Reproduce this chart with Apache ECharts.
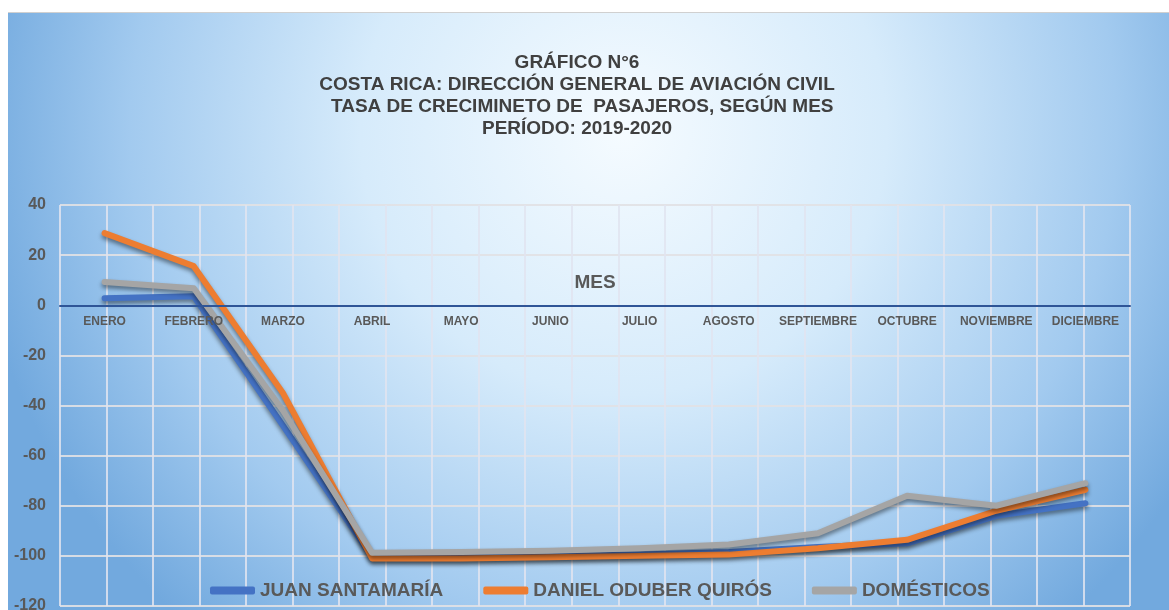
<!DOCTYPE html>
<html>
<head>
<meta charset="utf-8">
<script src="https://cdn.jsdelivr.net/npm/echarts@6/dist/echarts.min.js"></script>
<style>
    html, body { margin: 0; padding: 0; background: #ffffff; }
    #chart { width: 1169px; height: 610px; }
</style>
</head>
<body>
<div id="chart"></div>
<script>
// months (x axis) and growth rate per series
const months = ['ENERO', 'FEBRERO', 'MARZO', 'ABRIL', 'MAYO', 'JUNIO', 'JULIO',
    'AGOSTO', 'SEPTIEMBRE', 'OCTUBRE', 'NOVIEMBRE', 'DICIEMBRE'];
const juanSantamaria = [2.8, 3.6, -48, -100.5, -100.5, -100, -99.5, -98.5, -96.5, -95, -84, -79];
const danielOduber = [28.8, 15.6, -35, -101, -101, -100.5, -100, -99.5, -97, -93.6, -82, -73.6];
const domesticos = [9.3, 6.8, -42, -98.8, -98.5, -98, -97, -95.5, -91, -76, -80, -71];
const seriesNames = ['JUAN SANTAMARÍA', 'DANIEL ODUBER QUIRÓS', 'DOMÉSTICOS'];
const halfSteps = Array.from({ length: 24 }, (_, i) => 'h' + i);

const yMin = -120;
const yMax = 40;

const chart = echarts.init(document.getElementById('chart'));
const font = 'Liberation Sans, Arial, sans-serif';
const lineShadow = { shadowColor: 'rgba(0,0,0,0.45)', shadowBlur: 4, shadowOffsetY: 3, cap: 'round', join: 'round' };
const plotBox = { left: 60, right: 39, top: 205, bottom: 4, outerBoundsMode: 'none' };

// the month axis sits on the zero line: shift it up from the bottom edge of the grid
const plotHeight = 610 - plotBox.top - plotBox.bottom;
const zeroOffset = -plotHeight * (0 - yMin) / (yMax - yMin);

const option = {
    backgroundColor: '#ffffff',
    textStyle: { fontFamily: font },
    graphic: [{
        type: 'rect',
        z: -10,
        silent: true,
        shape: { x: 8, y: 12, width: 1161, height: 598 },
        style: {
            fill: new echarts.graphic.RadialGradient(0.53, 0.2, 1.1, [
                { offset: 0, color: '#f5fbff' },
                { offset: 0.4, color: '#d6ebfb' },
                { offset: 0.75, color: '#a2caef' },
                { offset: 1, color: '#72a9de' }
            ])
        }
    }, {
        type: 'rect',
        z: -9,
        silent: true,
        shape: { x: 8, y: 12, width: 1161, height: 1 },
        style: { fill: '#d0d0d0' }
    }],
    title: {
        text: 'GRÁFICO N°6\nCOSTA RICA: DIRECCIÓN GENERAL DE AVIACIÓN CIVIL\n  TASA DE CRECIMINETO DE  PASAJEROS, SEGÚN MES\nPERÍODO: 2019-2020',
        left: 572,
        textAlign: 'center',
        top: 47,
        textStyle: { fontSize: 19, fontWeight: 'bold', color: '#404040', lineHeight: 22, fontFamily: font }
    },
    legend: {
        bottom: 5,
        left: 205,
        itemWidth: 45,
        itemHeight: 8,
        itemGap: 40,
        icon: 'roundRect',
        textStyle: { fontSize: 19, fontWeight: 'bold', color: '#595959', fontFamily: font },
        data: seriesNames
    },
    // grid 1 only carries the extra vertical lines at the middle of each month
    grid: [Object.assign({}, plotBox), Object.assign({}, plotBox)],
    xAxis: [{
        type: 'category',
        gridIndex: 0,
        data: months,
        boundaryGap: true,
        position: 'bottom',
        offset: zeroOffset,
        name: 'MES',
        nameLocation: 'middle',
        nameGap: -32,
        nameTextStyle: { fontSize: 19, fontWeight: 'bold', color: '#595959' },
        axisLine: { onZero: false, lineStyle: { color: '#2f5597', width: 2 } },
        axisTick: { show: false },
        axisLabel: { fontSize: 12, fontWeight: 'bold', color: '#595959', margin: 10, interval: 0 },
        splitLine: { show: false },
        z: 5
    }, {
        type: 'category',
        gridIndex: 1,
        data: halfSteps,
        boundaryGap: false,
        axisLine: { show: false, onZero: false },
        axisTick: { show: false },
        axisLabel: { show: false },
        splitLine: { show: true, lineStyle: { color: 'rgba(225,228,240,0.85)', width: 2 } },
        z: 0
    }],
    yAxis: [{
        type: 'value',
        gridIndex: 0,
        min: yMin,
        max: yMax,
        interval: 20,
        axisLine: { show: false },
        axisTick: { show: false },
        axisLabel: { fontSize: 16, fontWeight: 'bold', color: '#595959', margin: 14 },
        splitLine: { lineStyle: { color: 'rgba(225,225,228,0.9)', width: 2 } }
    }, {
        type: 'value',
        gridIndex: 1,
        min: 0,
        max: 1,
        show: false
    }],
    series: [
        { name: seriesNames[0], type: 'line', data: juanSantamaria, symbol: 'none', itemStyle: { color: '#4472c4' },
          lineStyle: Object.assign({ width: 6, color: '#4472c4' }, lineShadow) },
        { name: seriesNames[1], type: 'line', data: danielOduber, symbol: 'none', itemStyle: { color: '#ed7d31' },
          lineStyle: Object.assign({ width: 6, color: '#ed7d31' }, lineShadow) },
        { name: seriesNames[2], type: 'line', data: domesticos, symbol: 'none', itemStyle: { color: '#a5a5a5' },
          lineStyle: Object.assign({ width: 6, color: '#a5a5a5' }, lineShadow) }
    ]
};

chart.setOption(option);
window.addEventListener('resize', () => chart.resize());
</script>
</body>
</html>
